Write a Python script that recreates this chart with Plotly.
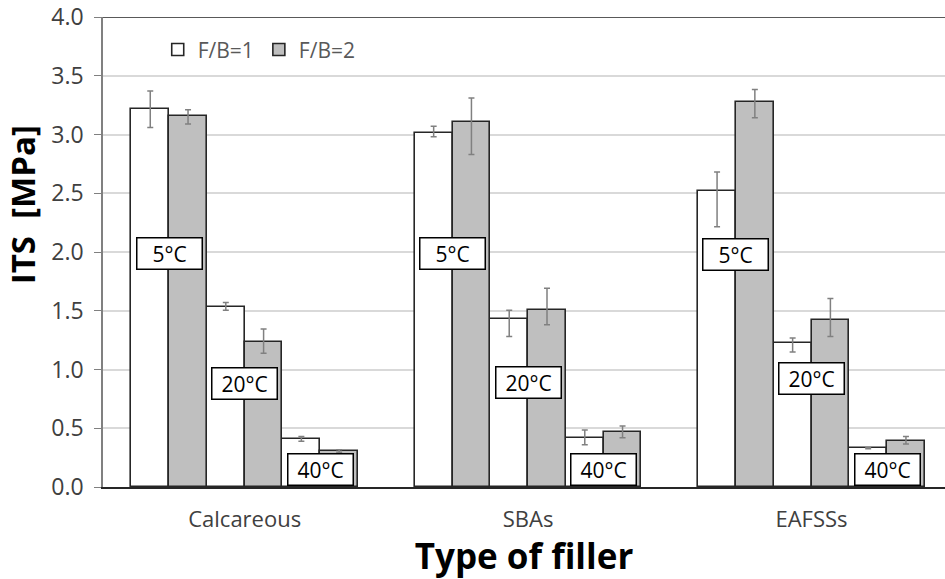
import plotly.graph_objects as go

# Indirect tensile strength by filler type, temperature and filler/bitumen ratio
categories = ["Calcareous", "SBAs", "EAFSSs"]
temperatures = ["5°C", "20°C", "40°C"]

# values ordered filler-major: (5°C, 20°C, 40°C) for each filler
its_fb1 = [3.22, 1.53, 0.41, 3.015, 1.43, 0.42, 2.52, 1.223, 0.33]
its_fb2 = [3.155, 1.234, 0.306, 3.11, 1.506, 0.47, 3.277, 1.42, 0.39]

err_up_fb1 = [0.15, 0.04, 0.02, 0.055, 0.075, 0.065, 0.16, 0.045, 0.005]
err_dn_fb1 = [0.16, 0.025, 0.02, 0.035, 0.15, 0.06, 0.305, 0.075, 0.005]
err_up_fb2 = [0.055, 0.11, 0.01, 0.2, 0.185, 0.05, 0.105, 0.185, 0.04]
err_dn_fb2 = [0.065, 0.095, 0.01, 0.28, 0.125, 0.05, 0.135, 0.14, 0.025]

# label heights for the temperature tags, per filler
tag_y = [
    [1.99, 0.88, 0.153],
    [1.99, 0.89, 0.153],
    [1.98, 0.925, 0.145],
]

BAR_W = 0.1333
FONT = "Open Sans"
TICK = "#404040"

x_fb1, x_fb2 = [], []
for ci in range(len(categories)):
    for ti in range(len(temperatures)):
        base = ci + (2 * ti - 2.5) * BAR_W
        x_fb1.append(base)
        x_fb2.append(base + BAR_W)

fig = go.Figure()
fig.add_trace(go.Bar(
    x=x_fb1, y=its_fb1, width=BAR_W, name="F/B=1",
    marker=dict(color="#ffffff", line=dict(color="#262626", width=1.6)),
    error_y=dict(type="data", symmetric=False, array=err_up_fb1, arrayminus=err_dn_fb1,
                 color="#808080", thickness=1.5, width=3),
))
fig.add_trace(go.Bar(
    x=x_fb2, y=its_fb2, width=BAR_W, name="F/B=2",
    marker=dict(color="#bfbfbf", line=dict(color="#262626", width=1.6)),
    error_y=dict(type="data", symmetric=False, array=err_up_fb2, arrayminus=err_dn_fb2,
                 color="#808080", thickness=1.5, width=3),
))

annotations = []
for ci in range(len(categories)):
    for ti, t in enumerate(temperatures):
        annotations.append(dict(
            x=ci + (2 * ti - 2) * BAR_W, y=tag_y[ci][ti], xref="x", yref="y",
            text=t, showarrow=False, font=dict(family=FONT, size=21, color="#000000"),
            bgcolor="#ffffff", bordercolor="#000000", borderwidth=1.5,
            width=62, height=28, borderpad=1,
        ))

# y-axis title
annotations.append(dict(
    x=-0.096, y=0.6, xref="paper", yref="paper", xanchor="center", yanchor="middle",
    text="<b>ITS&nbsp; [MPa]</b>", textangle=-90, showarrow=False,
    font=dict(family=FONT, size=33, color="#000000"),
))

fig.update_layout(
    width=945, height=579,
    margin=dict(l=103, r=0, t=17, b=92),
    paper_bgcolor="#ffffff", plot_bgcolor="#ffffff",
    barmode="overlay", bargap=0,
    showlegend=True,
    legend=dict(orientation="h", x=0.065, y=0.93, xanchor="left", yanchor="middle",
                font=dict(family=FONT, size=21, color="#595959"), bgcolor="rgba(0,0,0,0)",
                traceorder="normal"),
    xaxis=dict(
        range=[-0.5, 2.471], tickmode="array", tickvals=[0, 1, 2], ticktext=categories,
        showgrid=False, zeroline=False, showline=True, linecolor="#262626", linewidth=1.5,
        ticks="", ticklabelstandoff=12, tickfont=dict(family=FONT, size=22, color=TICK),
        title=dict(text="<b>Type of filler</b>", font=dict(family=FONT, size=35, color="#000000"),
                   standoff=6),
    ),
    yaxis=dict(
        range=[0, 4.0], tickmode="array", tickvals=[0, 0.5, 1, 1.5, 2, 2.5, 3, 3.5, 4],
        ticktext=["0.0", "0.5", "1.0", "1.5", "2.0", "2.5", "3.0", "3.5", "4.0"],
        showgrid=True, gridcolor="#d9d9d9", gridwidth=1.5, zeroline=False,
        showline=True, linecolor="#808080", linewidth=1.5,
        ticks="outside", ticklen=7, tickcolor="#808080", tickwidth=1,
        ticklabelstandoff=6,
        tickfont=dict(family=FONT, size=23, color=TICK),
    ),
    annotations=annotations,
)

# top border line of the plot area
fig.add_shape(type="line", xref="paper", yref="y", x0=0, x1=1, y0=4.0, y1=4.0,
              line=dict(color="#595959", width=2))

fig.write_html("out.html", config={"displayModeBar": False})
